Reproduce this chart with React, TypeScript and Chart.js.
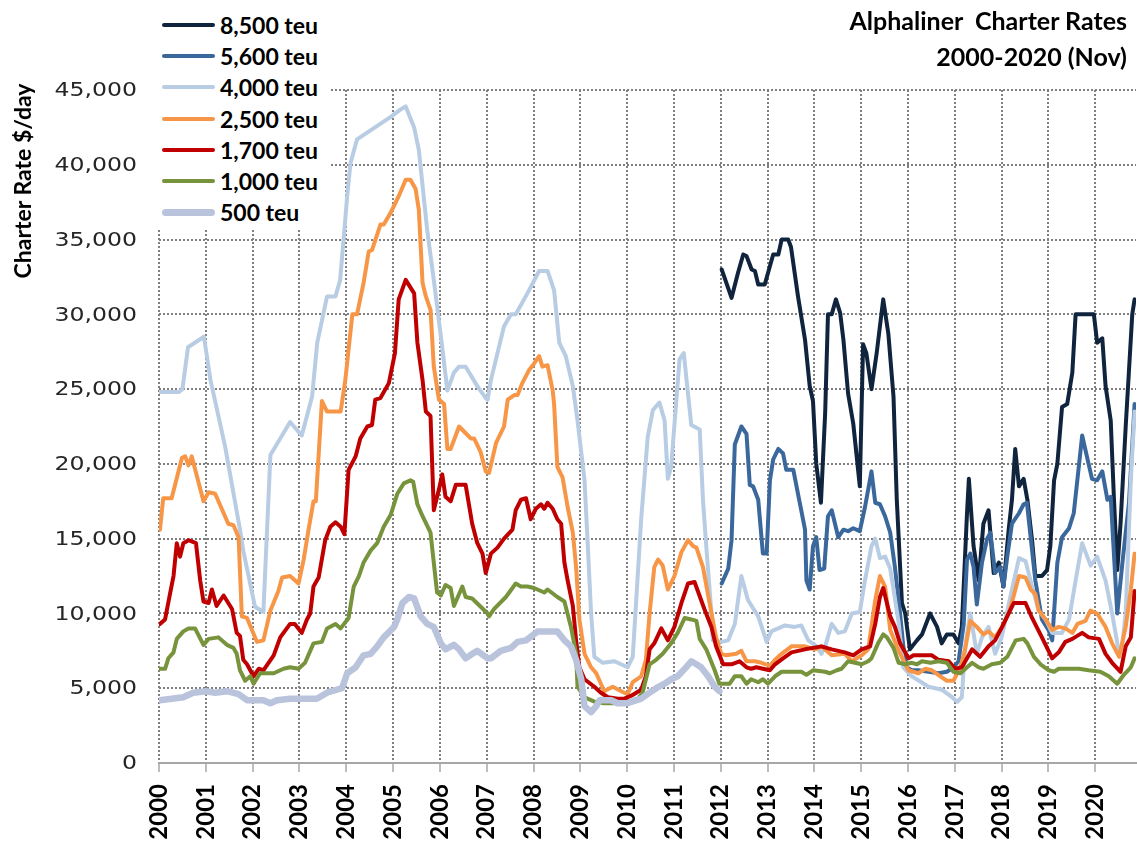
import React, { useEffect, useRef } from "react";
import { Chart, registerables } from "chart.js";

Chart.register(...registerables);

// ---------- axis tick values ----------
const yearTicks = [2000, 2001, 2002, 2003, 2004, 2005, 2006, 2007, 2008, 2009, 2010, 2011, 2012, 2013, 2014, 2015, 2016, 2017, 2018, 2019, 2020];
const rateTicks = [0, 5000, 10000, 15000, 20000, 25000, 30000, 35000, 40000, 45000];

// ---------- series labels / colours ----------
const seriesNames = ["8,500 teu", "5,600 teu", "4,000 teu", "2,500 teu", "1,700 teu", "1,000 teu", "500 teu"];
const seriesColors = ["#10243e", "#3a679c", "#b8cce4", "#f79646", "#c00000", "#77933c", "#b9c4dc"];

// ---------- series data (time in years, rate in $/day) ----------
const yrs8500 = [2012.02, 2012.23, 2012.37, 2012.48, 2012.55, 2012.66, 2012.73, 2012.8, 2012.94, 2013.12, 2013.23, 2013.3, 2013.44, 2013.5, 2013.65, 2013.8, 2013.9, 2013.97, 2014.04, 2014.14, 2014.23, 2014.29, 2014.37, 2014.46, 2014.55, 2014.62, 2014.72, 2014.83, 2014.97, 2015.04, 2015.11, 2015.22, 2015.33, 2015.47, 2015.58, 2015.69, 2015.76, 2015.87, 2015.94, 2016.04, 2016.19, 2016.3, 2016.47, 2016.62, 2016.72, 2016.83, 2016.97, 2017.08, 2017.15, 2017.26, 2017.3, 2017.4, 2017.51, 2017.61, 2017.72, 2017.83, 2017.94, 2018.04, 2018.15, 2018.22, 2018.29, 2018.37, 2018.47, 2018.55, 2018.65, 2018.72, 2018.86, 2018.97, 2019.04, 2019.12, 2019.19, 2019.29, 2019.4, 2019.51, 2019.58, 2019.97, 2020.04, 2020.15, 2020.22, 2020.33, 2020.4, 2020.47, 2020.54, 2020.65, 2020.79, 2020.84];
const teu8500 = [33000, 31100, 32800, 34000, 33900, 33000, 32900, 32000, 32000, 34000, 34000, 35000, 35000, 34500, 31200, 28300, 25200, 24200, 20000, 17400, 23400, 30000, 30000, 31000, 30100, 28300, 24700, 22700, 18500, 28000, 27400, 25000, 27400, 31000, 28700, 24500, 17600, 10700, 10000, 7600, 8200, 8600, 10000, 9100, 8000, 8600, 8600, 8000, 9100, 16700, 19000, 14500, 12200, 16000, 16900, 12700, 13400, 11800, 15600, 17600, 21000, 18500, 19000, 17600, 14900, 12500, 12500, 12900, 14500, 18900, 20000, 23800, 24000, 26100, 30000, 30000, 28100, 28400, 25200, 22900, 17600, 12900, 16000, 22500, 30000, 31000];

const yrs5600 = [2012.02, 2012.16, 2012.23, 2012.3, 2012.44, 2012.55, 2012.62, 2012.69, 2012.8, 2012.9, 2012.98, 2013.05, 2013.12, 2013.23, 2013.33, 2013.4, 2013.55, 2013.65, 2013.8, 2013.83, 2013.9, 2013.97, 2014.04, 2014.11, 2014.21, 2014.29, 2014.37, 2014.51, 2014.62, 2014.72, 2014.83, 2014.97, 2015.08, 2015.22, 2015.3, 2015.4, 2015.51, 2015.62, 2015.72, 2015.83, 2015.9, 2015.97, 2016.08, 2016.22, 2016.44, 2016.65, 2016.83, 2016.97, 2017.08, 2017.19, 2017.26, 2017.33, 2017.4, 2017.47, 2017.58, 2017.69, 2017.76, 2017.86, 2017.97, 2018.04, 2018.12, 2018.22, 2018.37, 2018.47, 2018.54, 2018.62, 2018.72, 2018.86, 2019.0, 2019.08, 2019.19, 2019.29, 2019.44, 2019.54, 2019.62, 2019.72, 2019.93, 2020.04, 2020.15, 2020.26, 2020.33, 2020.47, 2020.58, 2020.72, 2020.84];
const teu5600 = [12000, 13000, 14900, 21300, 22500, 22000, 18600, 18500, 17600, 14000, 14000, 18900, 20300, 21000, 20700, 19600, 19600, 18000, 15600, 12200, 11600, 14500, 15100, 12900, 13000, 16500, 16900, 15100, 15600, 15500, 15700, 15500, 17100, 19500, 17400, 17300, 16500, 15400, 13100, 10000, 7800, 6400, 6200, 6200, 6100, 6000, 6100, 6400, 6800, 9300, 13600, 14000, 13100, 10600, 13400, 15000, 15400, 12700, 13100, 11800, 13800, 16000, 16700, 17300, 17400, 15100, 12200, 9600, 8900, 8200, 13400, 15100, 15700, 16700, 19000, 21900, 19000, 18900, 19500, 17600, 17800, 10000, 13400, 17400, 24000];

const yrs4000 = [2000.0, 2000.42, 2000.5, 2000.62, 2000.96, 2001.1, 2001.41, 2001.73, 2001.8, 2002.05, 2002.23, 2002.38, 2002.8, 2003.05, 2003.27, 2003.38, 2003.59, 2003.77, 2003.87, 2004.02, 2004.09, 2004.23, 2004.95, 2005.16, 2005.27, 2005.45, 2005.55, 2005.73, 2005.87, 2006.05, 2006.16, 2006.3, 2006.41, 2006.55, 2006.8, 2006.98, 2007.02, 2007.09, 2007.37, 2007.52, 2007.62, 2007.87, 2008.12, 2008.3, 2008.44, 2008.55, 2008.69, 2008.84, 2008.94, 2009.09, 2009.16, 2009.23, 2009.3, 2009.48, 2009.73, 2010.01, 2010.12, 2010.3, 2010.44, 2010.55, 2010.69, 2010.8, 2010.87, 2010.94, 2011.12, 2011.21, 2011.37, 2011.55, 2011.62, 2011.69, 2011.8, 2011.83, 2012.01, 2012.16, 2012.3, 2012.44, 2012.58, 2012.8, 2012.98, 2013.08, 2013.37, 2013.58, 2013.72, 2013.87, 2014.05, 2014.15, 2014.23, 2014.37, 2014.51, 2014.65, 2014.8, 2014.97, 2015.08, 2015.22, 2015.3, 2015.4, 2015.51, 2015.62, 2015.69, 2015.8, 2015.9, 2016.08, 2016.44, 2016.72, 2016.94, 2017.05, 2017.15, 2017.22, 2017.33, 2017.47, 2017.58, 2017.72, 2017.86, 2018.0, 2018.22, 2018.37, 2018.51, 2018.65, 2018.79, 2018.94, 2019.08, 2019.29, 2019.44, 2019.58, 2019.72, 2019.9, 2020.04, 2020.22, 2020.36, 2020.51, 2020.58, 2020.65, 2020.76, 2020.84];
const teu4000 = [24800, 24800, 25000, 27800, 28500, 25600, 21200, 15600, 14200, 10450, 10100, 20600, 22800, 21900, 24500, 28100, 31200, 31200, 32300, 37900, 40100, 41700, 43200, 43700, 43900, 42500, 41000, 35600, 32300, 27800, 24900, 26100, 26500, 26500, 25200, 24400, 24300, 25600, 29200, 30000, 30000, 31400, 32900, 32900, 31600, 28100, 27200, 25200, 22900, 18900, 14500, 10000, 7100, 6700, 6800, 6400, 7100, 16300, 21800, 23600, 24100, 22900, 19000, 19800, 27000, 27400, 22600, 22300, 17600, 14500, 10000, 8200, 8100, 8200, 9300, 12500, 10900, 9800, 8100, 8800, 9200, 9100, 9200, 8200, 7800, 7300, 7800, 9300, 8700, 8800, 10000, 10100, 12200, 14500, 15000, 13700, 13800, 13000, 11600, 9400, 6400, 5800, 5100, 4900, 4400, 4100, 4400, 7800, 10000, 7300, 8400, 9100, 7300, 8400, 11600, 13700, 13500, 11800, 10200, 9600, 8700, 8700, 9600, 12200, 14700, 13200, 13800, 12200, 10000, 7300, 8000, 10000, 19000, 23500];

const yrs2500 = [2000.02, 2000.09, 2000.27, 2000.49, 2000.56, 2000.63, 2000.7, 2000.95, 2001.06, 2001.2, 2001.48, 2001.59, 2001.7, 2001.77, 2001.88, 2002.09, 2002.23, 2002.38, 2002.55, 2002.63, 2002.8, 2002.98, 2003.09, 2003.2, 2003.3, 2003.35, 2003.48, 2003.59, 2003.88, 2003.98, 2004.13, 2004.23, 2004.37, 2004.48, 2004.55, 2004.73, 2004.8, 2004.95, 2005.12, 2005.27, 2005.37, 2005.48, 2005.55, 2005.63, 2005.7, 2005.8, 2005.87, 2005.98, 2006.09, 2006.16, 2006.23, 2006.41, 2006.66, 2006.73, 2006.87, 2006.98, 2007.05, 2007.2, 2007.37, 2007.45, 2007.59, 2007.66, 2007.76, 2007.91, 2008.01, 2008.12, 2008.19, 2008.3, 2008.41, 2008.44, 2008.51, 2008.62, 2008.73, 2008.84, 2008.91, 2008.98, 2009.09, 2009.23, 2009.34, 2009.51, 2009.69, 2009.94, 2010.01, 2010.12, 2010.3, 2010.4, 2010.48, 2010.58, 2010.66, 2010.76, 2010.87, 2011.01, 2011.16, 2011.3, 2011.41, 2011.48, 2011.62, 2011.76, 2011.9, 2012.01, 2012.12, 2012.33, 2012.44, 2012.55, 2012.73, 2012.87, 2013.05, 2013.16, 2013.3, 2013.51, 2013.8, 2014.01, 2014.15, 2014.37, 2014.65, 2014.8, 2015.01, 2015.15, 2015.3, 2015.4, 2015.51, 2015.62, 2015.8, 2016.01, 2016.22, 2016.37, 2016.51, 2016.69, 2016.83, 2016.97, 2017.12, 2017.22, 2017.33, 2017.47, 2017.61, 2017.72, 2017.86, 2018.01, 2018.15, 2018.26, 2018.37, 2018.51, 2018.62, 2018.72, 2018.79, 2018.94, 2019.08, 2019.22, 2019.36, 2019.51, 2019.62, 2019.79, 2019.9, 2020.04, 2020.22, 2020.36, 2020.51, 2020.65, 2020.76, 2020.84];
const teu2500 = [15600, 17700, 17700, 20400, 20500, 19900, 20500, 17500, 18100, 18000, 16000, 15900, 15100, 9800, 9700, 8100, 8200, 10200, 11500, 12400, 12500, 12000, 13600, 15700, 17500, 17500, 24200, 23500, 23500, 25600, 30000, 30000, 32100, 34200, 34300, 36000, 36000, 36800, 37900, 39000, 39000, 38400, 37000, 32100, 31200, 30300, 26500, 24300, 24000, 21000, 21000, 22500, 21700, 21700, 20800, 19500, 19400, 21400, 22500, 24300, 24600, 24600, 25400, 26300, 26700, 27200, 26500, 26600, 24900, 24000, 19800, 19100, 17100, 15400, 13100, 9600, 7300, 6400, 6000, 4800, 5100, 4700, 4600, 5400, 5800, 6900, 10000, 13100, 13600, 13200, 11600, 12500, 14100, 14900, 14500, 14400, 13100, 10700, 8400, 7300, 7200, 7300, 7500, 6800, 6800, 6700, 6500, 6900, 7300, 7800, 7800, 7600, 7800, 7200, 7300, 6800, 7200, 7600, 10900, 12500, 11800, 8900, 7500, 6200, 6000, 6300, 6200, 5800, 5500, 5500, 6400, 7600, 9500, 9100, 8600, 8800, 8400, 9100, 10000, 11200, 12500, 12400, 11600, 11300, 10200, 9600, 8900, 9100, 9000, 8700, 9300, 9500, 10200, 10000, 9100, 8000, 7100, 9100, 11600, 14000];

const yrs1700 = [2000.02, 2000.13, 2000.24, 2000.31, 2000.38, 2000.45, 2000.52, 2000.63, 2000.79, 2000.88, 2000.95, 2001.06, 2001.13, 2001.23, 2001.38, 2001.56, 2001.66, 2001.73, 2001.8, 2001.88, 2002.02, 2002.13, 2002.23, 2002.45, 2002.59, 2002.8, 2002.9, 2003.05, 2003.16, 2003.23, 2003.3, 2003.41, 2003.55, 2003.66, 2003.77, 2003.88, 2003.96, 2004.05, 2004.2, 2004.3, 2004.45, 2004.55, 2004.62, 2004.73, 2004.91, 2005.04, 2005.12, 2005.27, 2005.45, 2005.52, 2005.63, 2005.7, 2005.8, 2005.87, 2005.98, 2006.05, 2006.12, 2006.23, 2006.34, 2006.55, 2006.69, 2006.8, 2006.91, 2006.98, 2007.09, 2007.23, 2007.37, 2007.55, 2007.62, 2007.73, 2007.84, 2007.94, 2008.05, 2008.16, 2008.23, 2008.3, 2008.41, 2008.51, 2008.59, 2008.66, 2008.73, 2008.84, 2008.91, 2008.98, 2009.09, 2009.3, 2009.44, 2009.59, 2009.8, 2009.94, 2010.09, 2010.3, 2010.4, 2010.48, 2010.58, 2010.73, 2010.87, 2011.01, 2011.16, 2011.3, 2011.44, 2011.58, 2011.65, 2011.8, 2011.9, 2012.05, 2012.23, 2012.4, 2012.55, 2012.65, 2012.76, 2012.9, 2013.05, 2013.16, 2013.33, 2013.51, 2013.8, 2013.97, 2014.15, 2014.37, 2014.65, 2014.83, 2015.01, 2015.19, 2015.3, 2015.4, 2015.47, 2015.62, 2015.72, 2015.83, 2016.01, 2016.12, 2016.51, 2016.65, 2016.87, 2017.01, 2017.15, 2017.37, 2017.54, 2017.72, 2017.86, 2018.01, 2018.15, 2018.26, 2018.51, 2018.65, 2018.86, 2019.08, 2019.22, 2019.36, 2019.51, 2019.72, 2019.86, 2020.08, 2020.22, 2020.36, 2020.54, 2020.65, 2020.76, 2020.84];
const teu1700 = [9300, 9600, 11400, 12500, 14700, 13800, 14700, 14900, 14700, 12200, 10800, 10700, 11600, 10500, 11200, 10300, 8700, 8500, 6900, 6600, 5800, 6300, 6200, 7200, 8400, 9300, 9300, 8700, 9600, 10000, 11800, 12400, 14900, 15800, 16100, 15800, 15300, 19600, 20500, 21700, 22500, 22600, 24300, 24400, 25400, 27400, 31000, 32300, 31400, 28100, 25600, 23500, 23200, 16900, 18300, 19300, 17800, 17500, 18600, 18600, 16000, 14700, 14000, 12700, 14000, 14400, 15000, 15600, 16900, 17600, 17700, 16300, 17000, 17300, 17000, 17400, 17000, 16300, 16000, 13400, 12200, 10500, 8200, 6400, 5600, 5100, 4700, 4400, 4300, 4300, 4500, 4900, 5800, 7600, 8000, 9000, 8200, 9100, 10700, 12000, 12100, 10900, 10300, 9100, 7800, 6600, 6600, 6800, 6400, 6300, 6400, 6300, 6200, 6600, 7000, 7400, 7600, 7700, 7800, 7600, 7400, 7200, 7600, 7800, 9300, 11100, 11700, 9800, 9100, 8000, 7000, 7200, 7200, 6900, 6800, 6300, 6400, 7600, 7100, 7800, 8200, 9100, 10000, 10700, 10700, 9700, 8400, 7000, 7400, 8100, 8300, 8700, 8400, 8300, 7300, 6700, 6100, 7800, 8400, 11500];

const yrs1000 = [2000.02, 2000.13, 2000.2, 2000.31, 2000.38, 2000.52, 2000.63, 2000.77, 2000.95, 2001.06, 2001.27, 2001.45, 2001.59, 2001.66, 2001.73, 2001.84, 2001.95, 2002.02, 2002.16, 2002.45, 2002.66, 2002.8, 2002.98, 2003.12, 2003.3, 2003.48, 2003.59, 2003.77, 2003.88, 2004.05, 2004.16, 2004.27, 2004.37, 2004.52, 2004.66, 2004.8, 2004.95, 2005.09, 2005.23, 2005.37, 2005.43, 2005.52, 2005.63, 2005.8, 2005.94, 2006.02, 2006.12, 2006.23, 2006.3, 2006.48, 2006.55, 2006.69, 2007.02, 2007.05, 2007.16, 2007.41, 2007.62, 2007.73, 2007.87, 2008.01, 2008.23, 2008.3, 2008.51, 2008.66, 2008.8, 2008.91, 2008.94, 2009.09, 2009.3, 2009.51, 2009.94, 2010.23, 2010.33, 2010.48, 2010.62, 2010.76, 2010.94, 2011.08, 2011.23, 2011.37, 2011.48, 2011.55, 2011.69, 2011.87, 2011.97, 2012.19, 2012.3, 2012.44, 2012.55, 2012.65, 2012.8, 2012.9, 2013.01, 2013.16, 2013.3, 2013.72, 2013.83, 2013.97, 2014.23, 2014.33, 2014.48, 2014.58, 2014.72, 2015.01, 2015.15, 2015.22, 2015.36, 2015.47, 2015.55, 2015.69, 2015.8, 2015.94, 2016.08, 2016.19, 2016.3, 2016.48, 2016.65, 2016.83, 2016.97, 2017.12, 2017.37, 2017.51, 2017.61, 2017.79, 2017.97, 2018.12, 2018.3, 2018.47, 2018.55, 2018.69, 2018.83, 2019.01, 2019.12, 2019.22, 2019.65, 2019.86, 2020.11, 2020.29, 2020.47, 2020.61, 2020.76, 2020.84];
const teu1000 = [6300, 6300, 7000, 7400, 8300, 8800, 9000, 9000, 7900, 8300, 8400, 7900, 7700, 7300, 6200, 5500, 5800, 5300, 6000, 6000, 6300, 6400, 6300, 6700, 8000, 8100, 9000, 9300, 9000, 9700, 11800, 12500, 13400, 14200, 14700, 15800, 16600, 18000, 18700, 18900, 18800, 17300, 16500, 15400, 11400, 11200, 11900, 11700, 10500, 11800, 11100, 11000, 10000, 9800, 10300, 11100, 12000, 11800, 11800, 11700, 11400, 11600, 11100, 10800, 9100, 7300, 5100, 4400, 4100, 4000, 4000, 4300, 4700, 6600, 6900, 7300, 8000, 8700, 9700, 9600, 9500, 8300, 7600, 6200, 5300, 5300, 5800, 5800, 5300, 5600, 5400, 5600, 5300, 5800, 6100, 6100, 5900, 6200, 6100, 6000, 6200, 6300, 6800, 6600, 6800, 7000, 8000, 8600, 8400, 7700, 6700, 6600, 6700, 6600, 6800, 6700, 6800, 6700, 6100, 6000, 6700, 6400, 6300, 6600, 6700, 7100, 8200, 8300, 8000, 7100, 6600, 6200, 6100, 6300, 6300, 6200, 6100, 5800, 5300, 5900, 6400, 7000];

const yrs500 = [2000.02, 2000.52, 2000.73, 2001.0, 2001.2, 2001.45, 2001.7, 2001.88, 2002.23, 2002.38, 2002.52, 2002.8, 2003.37, 2003.59, 2003.91, 2004.02, 2004.2, 2004.37, 2004.52, 2004.66, 2004.8, 2005.02, 2005.09, 2005.2, 2005.34, 2005.45, 2005.59, 2005.73, 2005.87, 2006.02, 2006.12, 2006.3, 2006.41, 2006.55, 2006.69, 2006.8, 2007.02, 2007.09, 2007.3, 2007.52, 2007.66, 2007.84, 2008.09, 2008.51, 2008.66, 2008.8, 2008.91, 2009.02, 2009.09, 2009.23, 2009.34, 2009.41, 2009.66, 2009.8, 2010.01, 2010.3, 2010.48, 2010.62, 2010.8, 2010.94, 2011.08, 2011.23, 2011.37, 2011.48, 2011.58, 2011.73, 2011.87, 2011.97];
const teu500 = [4200, 4400, 4700, 4800, 4700, 4800, 4600, 4200, 4200, 4000, 4200, 4300, 4300, 4700, 5000, 6000, 6400, 7200, 7300, 7800, 8400, 9100, 9600, 10700, 11100, 11000, 9800, 9300, 9100, 8000, 7600, 7900, 7600, 7000, 7300, 7500, 7000, 7000, 7500, 7700, 8100, 8200, 8800, 8800, 8200, 7800, 6900, 5600, 3800, 3400, 3800, 4200, 4200, 4000, 4000, 4300, 4700, 5000, 5300, 5600, 5800, 6300, 6800, 6600, 6400, 5800, 5100, 4800];

const seriesYears = [yrs8500, yrs5600, yrs4000, yrs2500, yrs1700, yrs1000, yrs500];
const seriesRates = [teu8500, teu5600, teu4000, teu2500, teu1700, teu1000, teu500];

const fmtRate = (v: number) => v.toLocaleString("en-US");

const yLabelPlugin = {
  id: "yLabelPlugin",
  afterDraw(chart: any) {
    const s = chart.scales.y;
    const ctx = chart.ctx;
    ctx.save();
    ctx.font = '20px "DejaVu Sans"';
    ctx.fillStyle = "#262626";
    ctx.textAlign = "right";
    ctx.textBaseline = "middle";
    rateTicks.forEach((v) => {
      const y = s.getPixelForValue(v);
      ctx.save();
      ctx.translate(137, y + 1);
      ctx.scale(1.18, 1);
      ctx.fillText(fmtRate(v), 0, 0);
      ctx.restore();
    });
    ctx.restore();
  },
};

export default function App() {
  const canvasRef = useRef<HTMLCanvasElement | null>(null);

  useEffect(() => {
    if (!canvasRef.current) return;
    const datasets = seriesNames.map((name, i) => ({
      label: name,
      data: seriesYears[i].map((x, j) => ({ x, y: seriesRates[i][j] })),
      borderColor: seriesColors[i],
      backgroundColor: seriesColors[i],
      borderWidth: i === 6 ? 6.5 : 4,
      pointRadius: 0,
      tension: 0,
      fill: false,
      borderJoinStyle: "round" as const,
      borderCapStyle: "round" as const,
      order: 7 - i,
    }));

    const chart = new Chart(canvasRef.current, {
      type: "line",
      data: { datasets },
      options: {
        animation: false,
        responsive: false,
        devicePixelRatio: 1,
        layout: { padding: { top: 90, right: 1, left: 0, bottom: 0 } },
        plugins: {
          legend: { display: false },
          title: { display: false },
          tooltip: { enabled: false },
        },
        scales: {
          x: {
            type: "linear",
            min: 2000,
            max: 2020.87,
            afterBuildTicks: (s: any) => {
              s.ticks = yearTicks.map((v) => ({ value: v }));
            },
            afterFit: (s: any) => {
              s.height = 79;
            },
            ticks: {
              autoSkip: false,
              maxRotation: 90,
              minRotation: 90,
              padding: 12,
              color: "#000",
              font: { family: "Lato", weight: "bold", size: 24 },
              callback: (v: any) => String(v),
            },
            grid: {
              color: "#7f7f7f",
              lineWidth: 2,
              drawTicks: true,
              tickLength: 9,
              tickColor: "#a6a6a6",
              tickWidth: 1.5,
              tickBorderDash: [],
            },
            border: { display: true, color: "#a6a6a6", width: 2, dash: [2, 2] },
          },
          y: {
            type: "linear",
            min: 0,
            max: 45000,
            afterFit: (s: any) => {
              s.width = 159;
            },
            ticks: { display: false, stepSize: 5000 },
            grid: { color: "#7f7f7f", lineWidth: 2, drawTicks: false },
            border: { display: false, dash: [2, 2] },
          },
        },
      },
      plugins: [yLabelPlugin],
    });
    return () => chart.destroy();
  }, []);

  const legendTop = 25;
  const legendStep = 31.2;

  return (
    <div style={{ position: "absolute", left: 0, top: 0, width: 1137, height: 842, overflow: "hidden", background: "#fff" }}>
      <canvas ref={canvasRef} width={1137} height={842} style={{ position: "absolute", left: 0, top: 0, width: 1137, height: 842 }} />
      {/* Title */}
      <div
        style={{
          position: "absolute",
          right: 10,
          top: 2,
          textAlign: "right",
          fontFamily: "Lato",
          fontWeight: 700,
          fontSize: 25,
          lineHeight: "36px",
          color: "#000",
          whiteSpace: "pre",
        }}
      >
        <div>Alphaliner  Charter Rates</div>
        <div>2000-2020 (Nov)</div>
      </div>
      {/* Y axis title */}
      <div
        style={{
          position: "absolute",
          left: 22 - 140,
          top: 181 - 15,
          width: 280,
          height: 30,
          lineHeight: "30px",
          textAlign: "center",
          transform: "rotate(-90deg)",
          fontFamily: "Lato",
          fontWeight: 700,
          fontSize: 23,
          color: "#000",
          whiteSpace: "nowrap",
        }}
      >
        Charter Rate $/day
      </div>
      {/* Legend box (white background hides the grid behind it) */}
      <div style={{ position: "absolute", left: 150, top: 0, width: 180, height: 229, background: "#fff" }} />
      {seriesNames.map((name, i) => (
        <div
          key={name}
          style={{
            position: "absolute",
            left: 162,
            top: legendTop + i * legendStep - 15,
            height: 30,
            display: "flex",
            alignItems: "center",
            whiteSpace: "nowrap",
          }}
        >
          <span
            style={{
              display: "inline-block",
              width: 53,
              height: i === 6 ? 7 : 4,
              borderRadius: 4,
              background: seriesColors[i],
              marginRight: 5,
            }}
          />
          <span style={{ fontFamily: "Lato", fontWeight: 700, fontSize: 23, color: "#000" }}>{name}</span>
        </div>
      ))}
    </div>
  );
}
